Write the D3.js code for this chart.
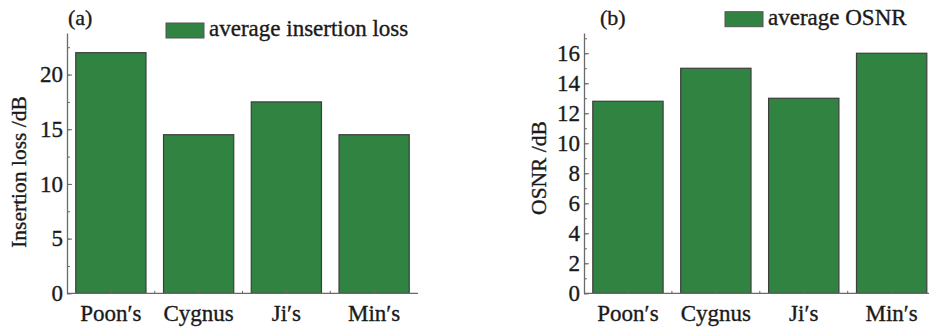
<!DOCTYPE html>
<html>
<head>
<meta charset="utf-8">
<script src="https://cdn.jsdelivr.net/npm/d3@7/dist/d3.min.js"></script>
<style>
  html, body { margin: 0; padding: 0; background: #fff; }
  svg text { font-family: "Liberation Serif", "DejaVu Serif", serif; fill: #1a1a1a; stroke: #1a1a1a; stroke-width: 0.35px; }
</style>
</head>
<body>
<svg id="chart" width="929" height="329"></svg>
<script>
// Methods compared in both panels
const categories = ["Poon\u2032s", "Cygnus", "Ji\u2032s", "Min\u2032s"];

// (a) average insertion loss, dB
const insertionLoss = [22.0, 14.5, 17.5, 14.5];
const lossTicks = [0, 5, 10, 15, 20];

// (b) average OSNR, dB
const osnr = [12.8, 15.0, 13.0, 16.0];
const osnrTicks = [0, 2, 4, 6, 8, 10, 12, 14, 16];

const svg = d3.select("#chart");
const BAR_FILL = "#318342";
const BAR_STROKE = "#3d3d3d";
const AXIS = "#6a6a6a";
const FONT = '"Liberation Serif", "DejaVu Serif", serif';

function panel(opt) {
  const g = svg.append("g");
  const x = d3.scaleBand()
    .domain(categories)
    .range([opt.left, opt.right])
    .paddingInner(0.2)
    .paddingOuter(0.1);
  const y = d3.scaleLinear()
    .domain([0, opt.yMax])
    .range([opt.bottom, opt.top]);

  // bars
  g.selectAll("rect.bar")
    .data(opt.values)
    .join("rect")
    .attr("class", "bar")
    .attr("x", (d, i) => x(categories[i]))
    .attr("width", x.bandwidth())
    .attr("y", d => y(d))
    .attr("height", d => y(0) - y(d))
    .attr("fill", BAR_FILL)
    .attr("stroke", BAR_STROKE)
    .attr("stroke-width", 1.2);

  // minor y ticks
  const minor = d3.range(0, opt.yMax, opt.minorStep);
  g.append("g")
    .attr("transform", `translate(${opt.left},0)`)
    .call(d3.axisLeft(y).tickValues(minor).tickSize(-3).tickFormat(""))
    .call(a => a.select(".domain").remove())
    .call(a => a.selectAll("line").attr("stroke", AXIS));

  // major y axis
  g.append("g")
    .attr("transform", `translate(${opt.left},0)`)
    .call(d3.axisLeft(y).tickValues(opt.ticks).tickSize(-5).tickSizeOuter(0).tickPadding(4))
    .attr("font-family", FONT)
    .call(a => a.select(".domain").attr("stroke", AXIS).attr("stroke-width", 1.3))
    .call(a => a.selectAll("line").attr("stroke", AXIS))
    .call(a => a.selectAll("text").attr("font-size", 23).style("font-family", FONT));

  // x axis: category ticks at band centres, small ticks at band edges
  const step = x.step();
  const edges = categories.slice(1).map(c => x(c) - step * x.paddingInner() / 2);
  g.selectAll("line.edge")
    .data(edges)
    .join("line")
    .attr("class", "edge")
    .attr("x1", d => d).attr("x2", d => d)
    .attr("y1", opt.bottom).attr("y2", opt.bottom - 2.5)
    .attr("stroke", AXIS);

  const xAxis = g.append("g")
    .attr("transform", `translate(0,${opt.bottom})`)
    .call(d3.axisBottom(x).tickSize(-4).tickSizeOuter(0).tickPadding(11))
    .attr("font-family", FONT);
  xAxis.select(".domain").attr("stroke", AXIS).attr("stroke-width", 1.3)
    .attr("d", `M${opt.left},0H${opt.axisEnd}`);
  xAxis.selectAll("line").attr("stroke", AXIS);
  xAxis.selectAll("text").attr("font-size", 23).style("font-family", FONT);

  // y axis title
  g.append("text")
    .attr("transform", `translate(${opt.titleX},${opt.titleY}) rotate(-90)`)
    .attr("text-anchor", "middle")
    .attr("dominant-baseline", "middle")
    .attr("font-size", 21.5)
    .text(opt.yTitle);

  // panel letter
  g.append("text")
    .attr("x", opt.letterX).attr("y", opt.letterY)
    .attr("font-size", 22)
    .text(opt.letter);

  // legend
  g.append("rect")
    .attr("x", opt.legX).attr("y", opt.legY)
    .attr("width", 38).attr("height", 15)
    .attr("fill", BAR_FILL)
    .attr("stroke", "#555").attr("stroke-width", 1);
  g.append("text")
    .attr("x", opt.legX + 43).attr("y", opt.legY + 13)
    .attr("font-size", 23)
    .text(opt.legend);
}

panel({
  values: insertionLoss, ticks: lossTicks, yMax: 23.8, minorStep: 2.5,
  left: 67, right: 418, axisEnd: 418, top: 33, bottom: 293.3,
  yTitle: "Insertion loss /dB", titleX: 21, titleY: 172,
  letter: "(a)", letterX: 68, letterY: 25,
  legend: "average insertion loss", legX: 166, legY: 23
});

panel({
  values: osnr, ticks: osnrTicks, yMax: 17.35, minorStep: 1,
  left: 584, right: 935.6, axisEnd: 929, top: 33, bottom: 293.3,
  yTitle: "OSNR /dB", titleX: 541, titleY: 168,
  letter: "(b)", letterX: 600, letterY: 25,
  legend: "average OSNR", legX: 725, legY: 11.7
});
</script>
</body>
</html>
